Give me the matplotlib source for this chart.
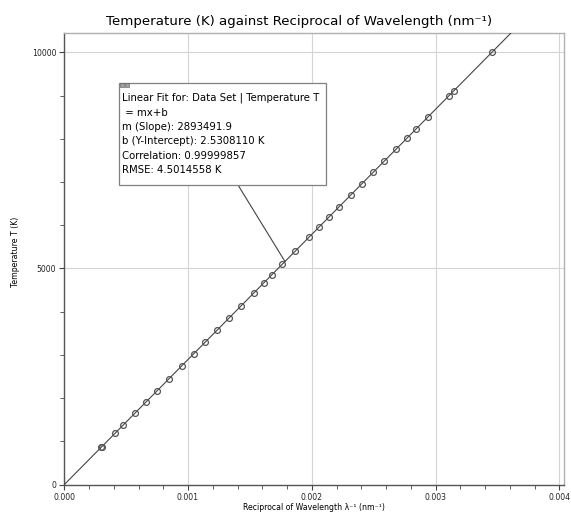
import matplotlib
matplotlib.use("Agg")
import matplotlib.pyplot as plt
from matplotlib.patches import Rectangle
from matplotlib.lines import Line2D
from matplotlib.ticker import MultipleLocator

# reciprocal of wavelength (nm^-1) and temperature (K)
recip_wavelength = [0.000300, 0.000302, 0.000410, 0.000477, 0.000572, 0.000660,
                    0.000748, 0.000844, 0.000948, 0.001044, 0.001140, 0.001236,
                    0.001332, 0.001428, 0.001534, 0.001614, 0.001678, 0.001763,
                    0.001867, 0.001981, 0.002057, 0.002136, 0.002221, 0.002313,
                    0.002403, 0.002498, 0.002586, 0.002682, 0.002770, 0.002840,
                    0.002941, 0.003106, 0.003146, 0.003455]
temperature = [868, 874, 1189, 1381, 1658, 1913, 2167, 2445, 2745, 3023, 3300,
               3578, 3855, 4133, 4440, 4672, 4857, 5104, 5405, 5735, 5953, 6184,
               6429, 6695, 6954, 7231, 7486, 7764, 8018, 8219, 8511, 8989, 9105,
               10000]

slope = 2893491.9
intercept = 2.5308110
fit_lines = ["Linear Fit for: Data Set | Temperature T",
             " = mx+b",
             "m (Slope): 2893491.9",
             "b (Y-Intercept): 2.5308110 K",
             "Correlation: 0.99999857",
             "RMSE: 4.5014558 K"]

W, H = 571, 514
fig = plt.figure(figsize=(W / 100, H / 100), dpi=100)
ax = fig.add_axes([64.3 / W, 1 - 484.7 / H, 500 / W, 451.4 / H])


def fp(x, y):
    # figure pixels, top-left origin -> figure fraction
    return (x / W, 1 - y / H)


xmin, xmax = 0, 0.00404
ymin, ymax = 0, 10439

# fit line
xs = [0, xmax]
ax.plot(xs, [slope * x + intercept for x in xs], color="#444444", lw=0.8, zorder=3)
ax.plot(recip_wavelength, temperature, "o", mfc="none", mec="#555555",
        ms=4.2, mew=0.9, zorder=4)

ax.set_xlim(xmin, xmax)
ax.set_ylim(ymin, ymax)
ax.xaxis.set_major_locator(MultipleLocator(0.001))
ax.xaxis.set_minor_locator(MultipleLocator(0.0002))
ax.yaxis.set_major_locator(MultipleLocator(5000))
ax.yaxis.set_minor_locator(MultipleLocator(1000))
ax.xaxis.set_major_formatter(plt.FuncFormatter(lambda v, p: "%.3f" % v))
ax.grid(True, which="major", color="#d4d4d4", lw=0.8)
ax.set_axisbelow(True)

ax.tick_params(which="both", direction="out", colors="#444444", labelsize=5.6,
               labelcolor="#222222", pad=2.2)
ax.tick_params(which="major", length=3.6, width=0.8)
ax.tick_params(which="minor", length=2.6, width=0.6)

for s in ["top", "right"]:
    ax.spines[s].set_color("#b0b0b0")
    ax.spines[s].set_linewidth(1.0)
for s in ["left", "bottom"]:
    ax.spines[s].set_color("#555555")
    ax.spines[s].set_linewidth(1.0)

fig.text(*fp(314, 507.5), "Reciprocal of Wavelength \u03bb\u207b\u00b9 (nm\u207b\u00b9)",
         fontsize=5.6, ha="center", va="center")
fig.text(*fp(15, 252), "Temperature T (K)", fontsize=5.6, ha="center",
         va="center", rotation=90)
fig.text(*fp(299, 21.5), "Temperature (K) against Reciprocal of Wavelength (nm\u207b\u00b9)",
         ha="center", va="center", fontsize=9.6)

# callout box
bx0, by0, bx1, by1 = 119, 83, 326, 185
fig.add_artist(Rectangle(fp(bx0, by1), (bx1 - bx0) / W, (by1 - by0) / H,
                         transform=fig.transFigure, fc="white", ec="#808080",
                         lw=0.9, zorder=10))
for i in range(2):
    fig.add_artist(Rectangle(fp(bx0 + 1 + i * 5, by0 + 4), 4 / W, 4 / H,
                             transform=fig.transFigure, fc="#a0a0a0",
                             ec="#555555", lw=0.4, zorder=11))
for i, line in enumerate(fit_lines):
    fig.text(*fp(bx0 + 3, 98 + i * 14.5), line, fontsize=7.3,
             va="center", ha="left", zorder=12)

# leader line from box to fit line
end_px = ax.transData.transform((0.001783, slope * 0.001783 + intercept))
start = fp(238, by1)
end = fig.transFigure.inverted().transform(end_px)
fig.add_artist(Line2D([start[0], end[0]], [start[1], end[1]],
                      transform=fig.transFigure, color="#444444", lw=0.8,
                      zorder=9))

fig.savefig("out.png", dpi=100)
